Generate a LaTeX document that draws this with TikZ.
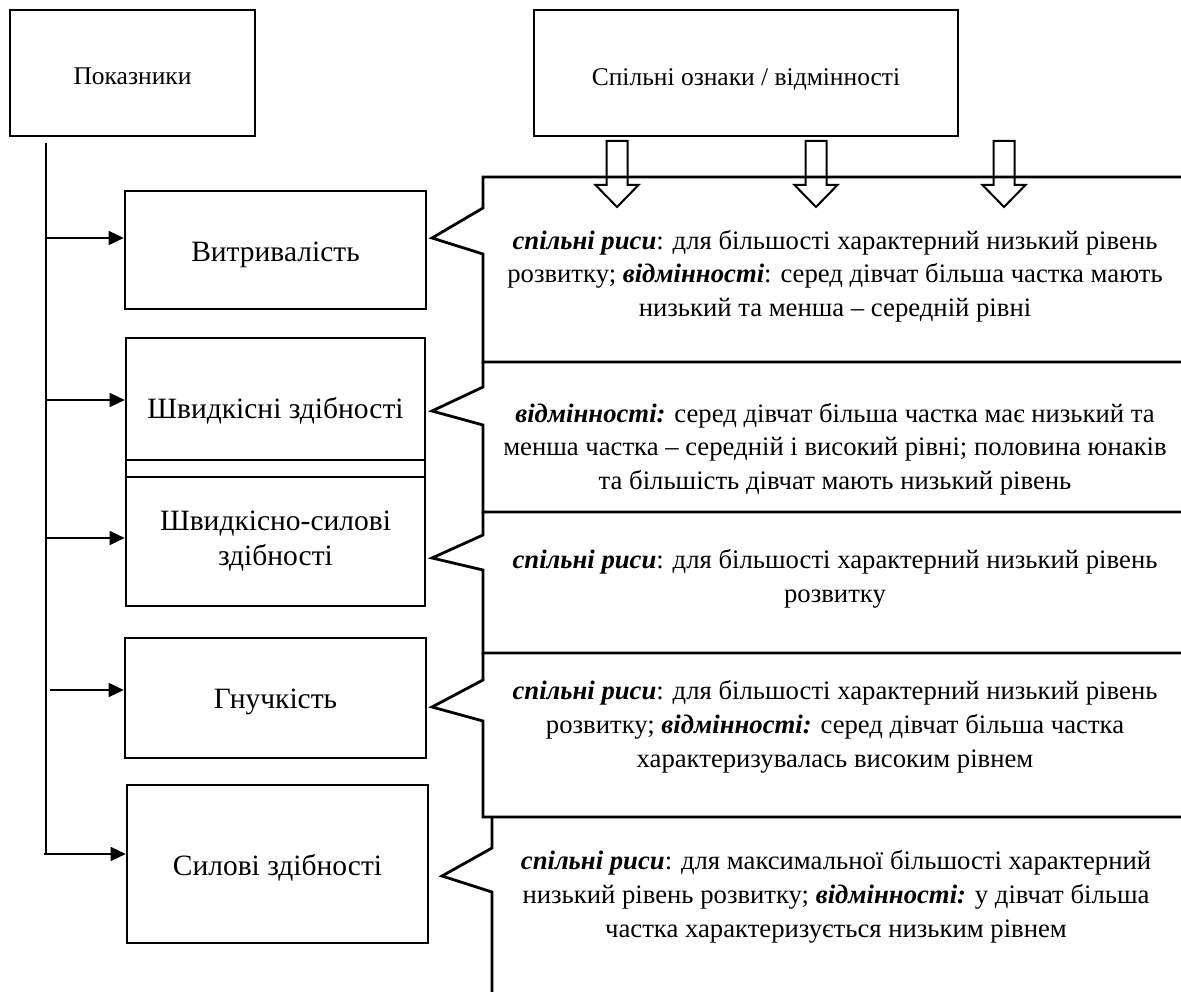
\documentclass[tikz,border=0pt]{standalone}
\usepackage{fontspec}
\setmainfont{Liberation Serif}
\usetikzlibrary{arrows.meta,positioning}
\tikzset{
  indbox/.style={draw, line width=2.6pt, minimum width=301pt, inner sep=0pt, align=center, text depth=0pt, font=\fontsize{29.5}{35}\selectfont},
  headbox/.style={indbox, minimum height=126pt, font=\fontsize{25.5}{30}\selectfont},
  notetext/.style={align=center, inner sep=0pt, font=\fontsize{26.7}{33.7}\selectfont},
  link/.style={line width=1.4pt, -{Triangle[length=15pt,width=14pt]}},
  callout/.style={line width=2.8pt, line join=miter},
  blockarrow/.style={line width=2pt, line join=miter}
}
\newcommand{\hl}[1]{\textbf{\textit{#1}}}

\begin{document}
\begin{tikzpicture}[x=1pt, y=-1pt]
  \useasboundingbox (0,0) rectangle (1181,992);
  \node[headbox, minimum width=245pt, text height=24pt] (pokaz) at (132.5,73) {Показники};
  \node[headbox, minimum width=424pt, text height=25pt] (oznaky) at (746,73) {Спільні ознаки / відмінності};
  \node[indbox, minimum height=118pt, text height=24pt] (vytr) at (275.5,250) {Витривалість};
  \node[indbox, minimum width=299pt, minimum height=122pt, text height=38pt] (shv) at (275.5,399) {Швидкісні здібності};
  \node[indbox, minimum width=299pt, minimum height=17pt] (strip) at (275.5,468.5) {};
  \node[indbox, minimum width=299pt, minimum height=129pt, text depth=, text height=] (shvsyl) at (275.5,541.5) {Швидкісно-силові\\здібності};
  \node[indbox, minimum height=120pt, text height=20pt] (gnuch) at (275.5,698) {Гнучкість};
  \node[indbox, minimum height=158pt, text height=22pt] (sylovi) at (277.5,864) {Силові здібності};

  \coordinate (trunk) at (46,143);
  \draw[line width=1.4pt] (trunk) -- (46,854);
  \foreach \y/\x/\n in {238/46/vytr, 400/46/shv, 538/46/shvsyl, 690/50/gnuch, 854/44/sylovi}{
    \coordinate (in-\n) at (\x,\y);
    \draw[link] (in-\n) -- (in-\n -| \n.west);
  }

  \foreach \x in {617,816,1004}{
    \draw[blockarrow] ({\x-10.5},141) -- ({\x+10.5},141) -- ({\x+10.5},185) -- ({\x+21.5},185)
      -- (\x,207) -- ({\x-21.5},185) -- ({\x-10.5},185) -- cycle;
  }

  \draw[callout] (1181,177) -- (483,177) -- (483,208) -- (432,238) -- (483,254) -- (483,362) -- (1181,362);
  \draw[callout] (483,362) -- (483,387) -- (432,411) -- (483,425) -- (483,512) -- (1181,512);
  \draw[callout] (483,512) -- (483,535) -- (432,558) -- (483,570) -- (483,653) -- (1181,653);
  \draw[callout] (483,653) -- (483,680) -- (432,707) -- (483,721) -- (483,817) -- (1181,817);
  \draw[callout] (492,817) -- (492,848) -- (442,876) -- (492,892) -- (492,992);

  \node[notetext] (note1) at (835,276) {\hl{спільні риси}: для більшості характерний низький рівень\\розвитку; \hl{відмінності}: серед дівчат більша частка мають\\низький та менша – середній рівні};
  \node[notetext] (note2) at (835,449) {\hl{відмінності:} серед дівчат більша частка має низький та\\менша частка – середній і високий рівні; половина юнаків\\та більшість дівчат мають низький рівень};
  \node[notetext] (note3) at (835,579) {\hl{спільні риси}: для більшості характерний низький рівень\\розвитку};
  \node[notetext] (note4) at (835,727) {\hl{спільні риси}: для більшості характерний низький рівень\\розвитку; \hl{відмінності:} серед дівчат більша частка\\характеризувалась високим рівнем};
  \node[notetext] (note5) at (836,897) {\hl{спільні риси}: для максимальної більшості характерний\\низький рівень розвитку; \hl{відмінності:} у дівчат більша\\частка характеризується низьким рівнем};
\end{tikzpicture}
\end{document}
